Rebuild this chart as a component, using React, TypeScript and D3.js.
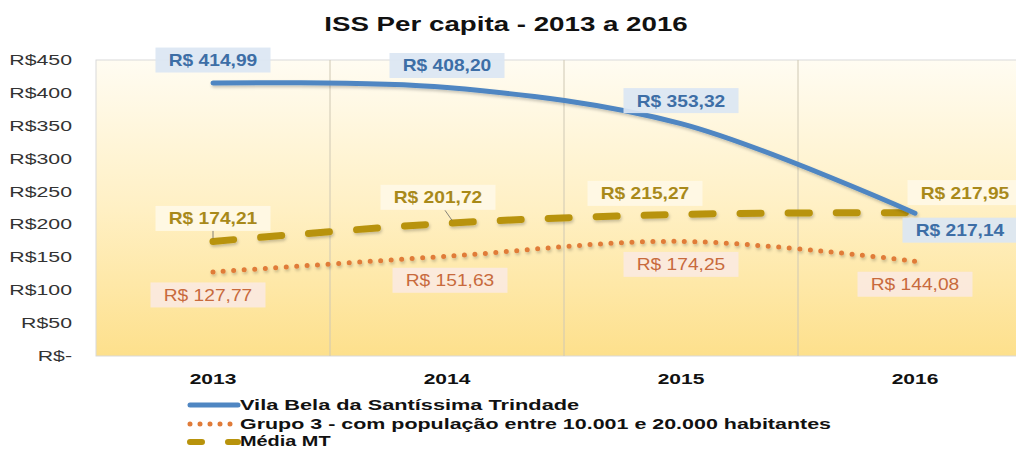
import React from "react";
import * as d3 from "d3";

const years = ["2013", "2014", "2015", "2016"];
const vilaBela = [414.99, 408.2, 353.32, 217.14];
const grupo3 = [127.77, 151.63, 174.25, 144.08];
const mediaMT = [174.21, 201.72, 215.27, 217.95];
const yTicks = [0, 50, 100, 150, 200, 250, 300, 350, 400, 450];
const seriesNames = [
  "Vila Bela da Santíssima Trindade",
  "Grupo 3 - com população entre 10.001 e 20.000 habitantes",
  "Média MT",
];

const fmt = (v: number) => "R$ " + v.toFixed(2).replace(".", ",");

// label offsets (dx, dy) relative to each point, in pixels
const blueOff = [[0, -23], [0, -22], [0, -23], [45, 17]];
const goldOff = [[0, -23], [-9, -26], [-36, -21], [50, -20]];
const orangeOff = [[-5, 23], [3, 24], [0, 23], [0, 23]];

const W = 1016, H = 449;
const left = 96, top = 60, bottom = 356;
const band = 234;

const font = "'Liberation Sans', Arial, sans-serif";

function SText(props: {
  x: number;
  y: number;
  sx: number;
  anchor?: string;
  size: number;
  weight?: number;
  fill: string;
  children: React.ReactNode;
}) {
  return (
    <text
      transform={`translate(${props.x},${props.y}) scale(${props.sx},1)`}
      textAnchor={props.anchor || "start"}
      fontSize={props.size}
      fontWeight={props.weight || 400}
      fill={props.fill}
      fontFamily={font}
    >
      {props.children}
    </text>
  );
}

export default function App() {
  const x = d3.scaleBand<string>().domain(years).range([left, left + band * years.length]);
  const y = d3.scaleLinear().domain([0, 450]).range([bottom, top]);
  const cx = (i: number) => (x(years[i]) as number) + x.bandwidth() / 2;
  const line = d3
    .line<number>()
    .x((_, i) => cx(i))
    .y((d) => y(d))
    .curve(d3.curveCatmullRom.alpha(0.5));

  const label = (
    v: number,
    i: number,
    off: number[],
    bg: string,
    fg: string,
    bold: boolean,
    key: string
  ) => {
    const px = cx(i) + off[0];
    const py = y(v) + off[1];
    const w = 115, h = 25;
    return (
      <g key={key}>
        <rect x={px - w / 2} y={py - h / 2} width={w} height={h} fill={bg} opacity={0.92} />
        <SText x={px} y={py + 6} sx={1.2} anchor="middle" size={16} weight={bold ? 700 : 400} fill={fg}>
          {fmt(v)}
        </SText>
      </g>
    );
  };

  return (
    <svg width={W} height={H} style={{ position: "absolute", left: 0, top: 0 }}>
      <defs>
        <linearGradient id="bg" x1="0" y1="0" x2="0" y2="1">
          <stop offset="0" stopColor="#fffcf2" />
          <stop offset="0.5" stopColor="#fff0c4" />
          <stop offset="1" stopColor="#fde08c" />
        </linearGradient>
        <filter id="sh" x="-10%" y="-50%" width="120%" height="200%">
          <feDropShadow dx="1" dy="2" stdDeviation="1.5" floodColor="#000" floodOpacity="0.22" />
        </filter>
      </defs>
      <rect width={W} height={H} fill="#fff" />
      <SText x={506} y={31} sx={1.32} anchor="middle" size={21} weight={700} fill="#111">
        ISS Per capita - 2013 a 2016
      </SText>
      <rect x={left} y={top} width={band * 4} height={bottom - top} fill="url(#bg)" stroke="#d9d9d9" />
      {years.slice(1).map((yr) => (
        <line
          key={yr}
          x1={x(yr) as number}
          x2={x(yr) as number}
          y1={top}
          y2={bottom}
          stroke="#cfc8b4"
          strokeWidth={1}
        />
      ))}
      {yTicks.map((t) => (
        <SText key={t} x={72} y={y(t) + 5} sx={1.42} anchor="end" size={15} fill="#333">
          {t === 0 ? "R$-" : "R$" + t}
        </SText>
      ))}
      {years.map((yr, i) => (
        <SText key={yr} x={cx(i)} y={384} sx={1.4} anchor="middle" size={15} weight={700} fill="#111">
          {yr}
        </SText>
      ))}

      <path
        d={line(grupo3) || ""}
        fill="none"
        stroke="#e07b39"
        strokeWidth={5}
        strokeLinecap="round"
        strokeDasharray="0 10.5"
        filter="url(#sh)"
      />
      <path
        d={line(mediaMT) || ""}
        fill="none"
        stroke="#b8930c"
        strokeWidth={7}
        strokeLinecap="round"
        strokeDasharray="21 27"
        filter="url(#sh)"
      />
      <path
        d={line(vilaBela) || ""}
        fill="none"
        stroke="#4f86c2"
        strokeWidth={5}
        strokeLinecap="round"
        filter="url(#sh)"
      />
      <line x1={cx(1) - 2} y1={y(201.72) - 13} x2={cx(1) + 5} y2={y(201.72) - 3} stroke="#666" strokeWidth={0.8} />
      <line x1={cx(0)} y1={y(174.21) - 11} x2={cx(0)} y2={y(174.21) - 3} stroke="#666" strokeWidth={0.8} />

      {vilaBela.map((v, i) => label(v, i, blueOff[i], "#dbe6f3", "#3d6ea6", true, "b" + i))}
      {mediaMT.map((v, i) => label(v, i, goldOff[i], "#fff8e6", "#a8891a", true, "g" + i))}
      {grupo3.map((v, i) => label(v, i, orangeOff[i], "#fbe9e0", "#c86a3d", false, "o" + i))}

      <line x1={190} x2={238} y1={405} y2={405} stroke="#4f86c2" strokeWidth={5} strokeLinecap="round" />
      <SText x={240} y={410} sx={1.45} size={15} weight={700} fill="#111">{seriesNames[0]}</SText>
      <line x1={190} x2={238} y1={424} y2={424} stroke="#e07b39" strokeWidth={5} strokeLinecap="round" strokeDasharray="0 10" />
      <SText x={240} y={429} sx={1.43} size={15} weight={700} fill="#111">{seriesNames[1]}</SText>
      <line x1={190} x2={238} y1={442} y2={442} stroke="#b8930c" strokeWidth={6} strokeLinecap="round" strokeDasharray="12 26" />
      <SText x={240} y={446} sx={1.42} size={14} weight={700} fill="#111">{seriesNames[2]}</SText>
    </svg>
  );
}
